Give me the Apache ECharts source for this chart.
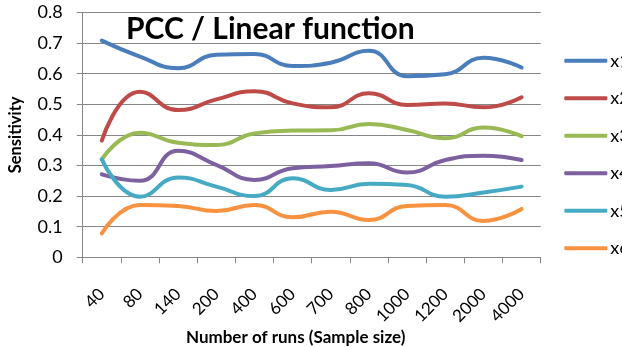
<!DOCTYPE html>
<html><head><meta charset="utf-8">
<script src="https://cdn.jsdelivr.net/npm/echarts@6/dist/echarts.min.js"></script>
<style>html,body{margin:0;padding:0;background:#fff}#c{width:622px;height:347px}</style>
</head><body><div id="c"></div>
<script>
const categories = ['40','80','140','200','400','600','700','800','1000','1200','2000','4000'];
const seriesNames = ['x1','x2','x3','x4','x5','x6'];
const x1 = [0.708,0.656,0.618,0.662,0.664,0.625,0.636,0.675,0.592,0.598,0.652,0.620];
const x2 = [0.381,0.541,0.481,0.516,0.543,0.503,0.490,0.536,0.498,0.503,0.490,0.523];
const x3 = [0.320,0.407,0.374,0.367,0.405,0.414,0.415,0.436,0.416,0.389,0.424,0.396];
const x4 = [0.271,0.250,0.348,0.302,0.253,0.291,0.298,0.307,0.277,0.318,0.332,0.318];
const x5 = [0.320,0.198,0.261,0.231,0.200,0.258,0.220,0.240,0.236,0.198,0.212,0.231];
const x6 = [0.078,0.171,0.168,0.151,0.171,0.131,0.149,0.122,0.168,0.171,0.119,0.158];
const yTicks = [0,0.1,0.2,0.3,0.4,0.5,0.6,0.7,0.8];
const colors = ['#4A7EBB','#BE4B48','#98B954','#7D60A0','#46AAC5','#F69240'];
const allData = [x1,x2,x3,x4,x5,x6];
const FONT = 'Lato';
const chart = echarts.init(document.getElementById('c'));
chart.setOption({
  animation:false,
  backgroundColor:'#fff',
  color: colors,
  title:{text:'PCC / Linear function',left:121,top:9,textStyle:{fontFamily:FONT,fontWeight:'bold',fontSize:30,color:'#000'}},
  legend:{orient:'vertical',left:559.3,top:45.7,itemWidth:43,itemHeight:4,itemGap:17.5,icon:'roundRect',
    data:seriesNames,textStyle:{fontFamily:FONT,fontSize:18,color:'#000',lineHeight:20,height:20,padding:[0,0,0,-2]}},
  grid:{left:82.7,right:81.3,top:12.5,bottom:89.7,containLabel:false,outerBoundsMode:'none'},
  xAxis:{type:'category',data:categories,boundaryGap:true,
    name:'Number of runs (Sample size)',nameLocation:'middle',nameGap:72,nameMoveOverlap:false,
    nameTextStyle:{fontFamily:FONT,fontWeight:'bold',fontSize:17,color:'#000',padding:[0,32,0,0]},
    axisLine:{lineStyle:{color:'#868686',width:1}},
    axisTick:{show:true,length:6,lineStyle:{color:'#868686'}},
    axisLabel:{rotate:45,fontFamily:FONT,fontSize:17,color:'#000',margin:34}},
  yAxis:{type:'value',min:0,max:0.8,interval:0.1,
    name:'Sensitivity',nameLocation:'middle',nameGap:59,nameMoveOverlap:false,
    nameTextStyle:{fontFamily:FONT,fontWeight:'bold',fontSize:16.5,color:'#000'},
    axisLine:{show:true,lineStyle:{color:'#868686',width:1}},
    axisTick:{show:true,length:6,lineStyle:{color:'#868686'}},
    splitLine:{lineStyle:{color:'#868686',width:1}},
    axisLabel:{fontFamily:FONT,fontSize:18,color:'#000',margin:20,
      formatter:v=>{const t=yTicks.find(x=>Math.abs(x-v)<1e-9);return t===0?'0':String(t);}}},
  series: seriesNames.map((n,i)=>({name:n,type:'line',data:allData[i],smooth:0.5,showSymbol:false,symbol:'none',
    lineStyle:{width:4,color:colors[i],cap:'round',join:'round'},itemStyle:{color:colors[i]}}))
});
</script></body></html>
